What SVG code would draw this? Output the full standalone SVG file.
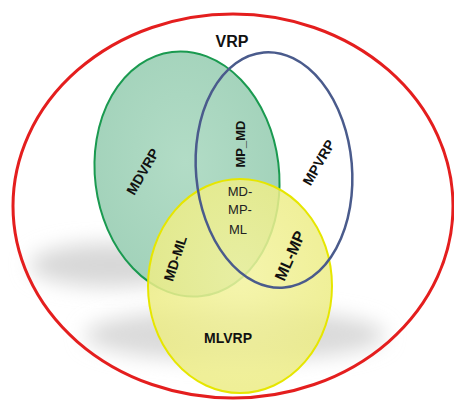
<svg xmlns="http://www.w3.org/2000/svg" width="454" height="403" viewBox="0 0 454 403">
<style>
.lbl{font-family:"Liberation Sans",Arial,sans-serif;font-weight:bold;fill:#111;text-anchor:middle}
.thin{font-family:"Liberation Sans",Arial,sans-serif;fill:#222;text-anchor:middle;font-size:13px}
</style>
<defs>
<filter id="blur" x="-30%" y="-50%" width="160%" height="200%"><feGaussianBlur stdDeviation="10"/></filter>
<radialGradient id="gg" cx="0.5" cy="0.45" r="0.55"><stop offset="0" stop-color="#b2dcc6"/><stop offset="1" stop-color="#a2d2ba"/></radialGradient>
<radialGradient id="yg" cx="0.5" cy="0.45" r="0.55"><stop offset="0" stop-color="#f3f39e"/><stop offset="1" stop-color="#ecec84"/></radialGradient>
</defs>
<rect width="454" height="403" fill="#fff"/>
<g id="shadow">
<ellipse cx="110" cy="265" rx="80" ry="22" fill="#d8d8d8" filter="url(#blur)"/>
<ellipse cx="235" cy="335" rx="150" ry="26" fill="#dadada" filter="url(#blur)"/>
</g>
<g id="vrp">
<ellipse cx="233" cy="206" rx="220" ry="192" fill="none" stroke="#e41e1e" stroke-width="3"/>
<text class="lbl" x="232" y="47" font-size="16">VRP</text>
</g>
<g id="mdvrp">
<ellipse cx="187" cy="174" rx="92" ry="123" fill="url(#gg)" stroke="#1a9a50" stroke-width="2" transform="rotate(-7 187 174)"/>
<text class="lbl" x="0" y="0" font-size="14" transform="translate(147 174) rotate(-60)">MDVRP</text>
</g>
<g id="mlvrp">
<ellipse cx="240" cy="286" rx="92" ry="107" fill="url(#yg)" fill-opacity="0.85" stroke="#e6e600" stroke-width="2"/>
<text class="lbl" x="228" y="343" font-size="14">MLVRP</text>
</g>
<g id="mpvrp">
<ellipse cx="274" cy="170" rx="78" ry="118" fill="none" stroke="#4a5b8c" stroke-width="2.5" transform="rotate(-5 274 170)"/>
<text class="lbl" x="0" y="0" font-size="14" transform="translate(323 165) rotate(-60)">MPVRP</text>
</g>
<g id="labels">
<text class="lbl" x="0" y="0" font-size="13" transform="translate(245 144) rotate(-90)">MP_MD</text>
<text class="thin" x="240" y="196">MD-</text>
<text class="thin" x="240" y="214">MP-</text>
<text class="thin" x="238" y="234">ML</text>
<text class="lbl" x="0" y="0" font-size="14" transform="translate(180 260) rotate(-72)">MD-ML</text>
<text class="lbl" x="0" y="0" font-size="16" transform="translate(295 258) rotate(-66)">ML-MP</text>
</g>
</svg>
